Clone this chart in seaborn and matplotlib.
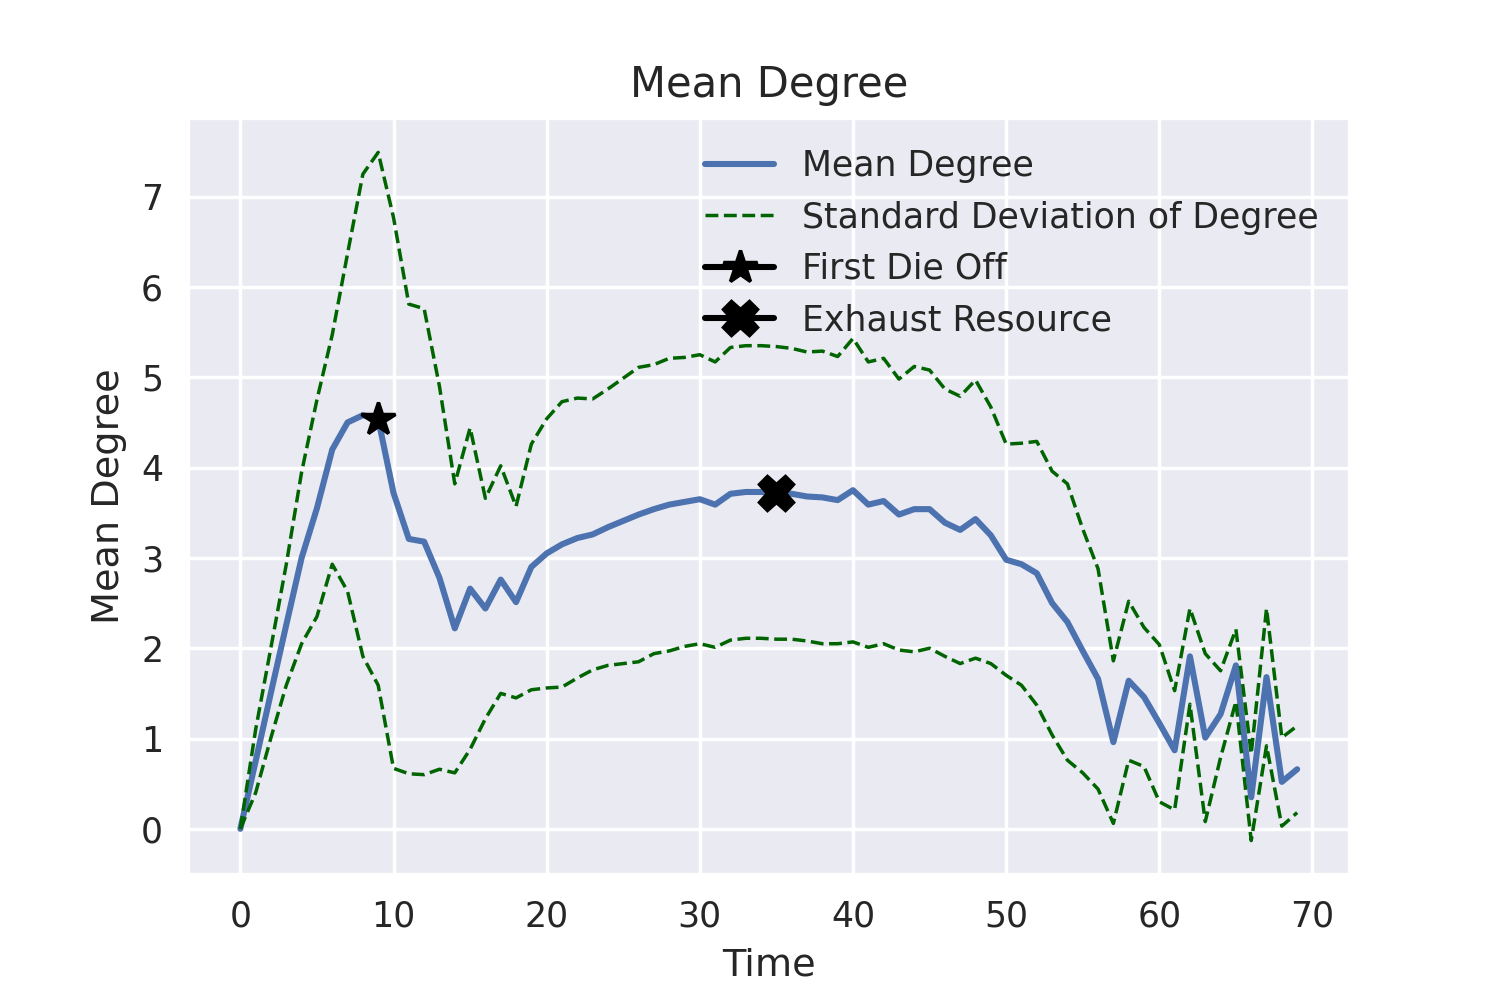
import numpy as np
import pandas as pd
import matplotlib
matplotlib.use("Agg")
import matplotlib.pyplot as plt
import seaborn as sns

time = list(range(70))
mean_degree = [0.00, 0.75, 1.51, 2.26, 3.00, 3.55, 4.20, 4.50, 4.58, 4.54,
               3.72, 3.21, 3.18, 2.78, 2.22, 2.66, 2.44, 2.76, 2.51, 2.90,
               3.05, 3.15, 3.22, 3.26, 3.34, 3.41, 3.48, 3.54, 3.59, 3.62,
               3.65, 3.59, 3.71, 3.73, 3.73, 3.72, 3.71, 3.68, 3.67, 3.64,
               3.75, 3.59, 3.63, 3.48, 3.54, 3.54, 3.39, 3.31, 3.43, 3.25,
               2.98, 2.93, 2.83, 2.50, 2.29, 1.97, 1.66, 0.96, 1.64, 1.46,
               1.17, 0.87, 1.91, 1.01, 1.27, 1.81, 0.35, 1.68, 0.52, 0.66]
std_degree = [0.00, 0.35, 0.50, 0.67, 0.95, 1.20, 1.27, 1.87, 2.67, 2.95,
              3.05, 2.60, 2.58, 2.12, 1.60, 1.78, 1.22, 1.26, 1.06, 1.36,
              1.49, 1.58, 1.55, 1.50, 1.53, 1.58, 1.63, 1.60, 1.62, 1.60,
              1.60, 1.58, 1.62, 1.62, 1.62, 1.62, 1.61, 1.60, 1.62, 1.59,
              1.68, 1.58, 1.58, 1.50, 1.58, 1.54, 1.48, 1.48, 1.54, 1.42,
              1.28, 1.34, 1.46, 1.46, 1.53, 1.35, 1.22, 0.90, 0.88, 0.77,
              0.87, 0.66, 0.53, 0.93, 0.48, 0.40, 0.48, 0.76, 0.49, 0.48]
first_die_off = 9
exhaust_resource = 35

sns.set_theme(style="darkgrid", context="notebook")
plt.rcParams["font.family"] = ["DejaVu Sans"]

df = pd.DataFrame({"Time": time, "mean": mean_degree, "std": std_degree})
df["upper"] = df["mean"] + df["std"]
df["lower"] = df["mean"] - df["std"]

fig, ax = plt.subplots(figsize=(6, 4), dpi=250)
fig.subplots_adjust(left=0.125, right=0.9, top=0.882, bottom=0.125)

sns.lineplot(data=df, x="Time", y="mean", color="#4C72B0", linewidth=1.75, ax=ax)
sns.lineplot(data=df, x="Time", y="upper", color="darkgreen", linewidth=1.0,
             linestyle="--", ax=ax)
sns.lineplot(data=df, x="Time", y="lower", color="darkgreen", linewidth=1.0,
             linestyle="--", ax=ax)
lines = ax.get_lines()

star, = ax.plot([time[first_die_off]], [mean_degree[first_die_off]], "*-",
                color="black", markersize=10, linewidth=1.75)
xmark, = ax.plot([time[exhaust_resource]], [mean_degree[exhaust_resource]], "X-",
                 color="black", markersize=10, linewidth=1.75)

ax.legend([lines[0], lines[1], star, xmark],
          ["Mean Degree", "Standard Deviation of Degree", "First Die Off", "Exhaust Resource"],
          loc="upper right", frameon=False, fontsize=10)

ax.set_title("Mean Degree", fontsize=12)
ax.set_xlabel("Time", fontsize=11)
ax.set_ylabel("Mean Degree", fontsize=11)
ax.tick_params(labelsize=10, length=0, pad=7)

fig.savefig("out.png", dpi=250)
